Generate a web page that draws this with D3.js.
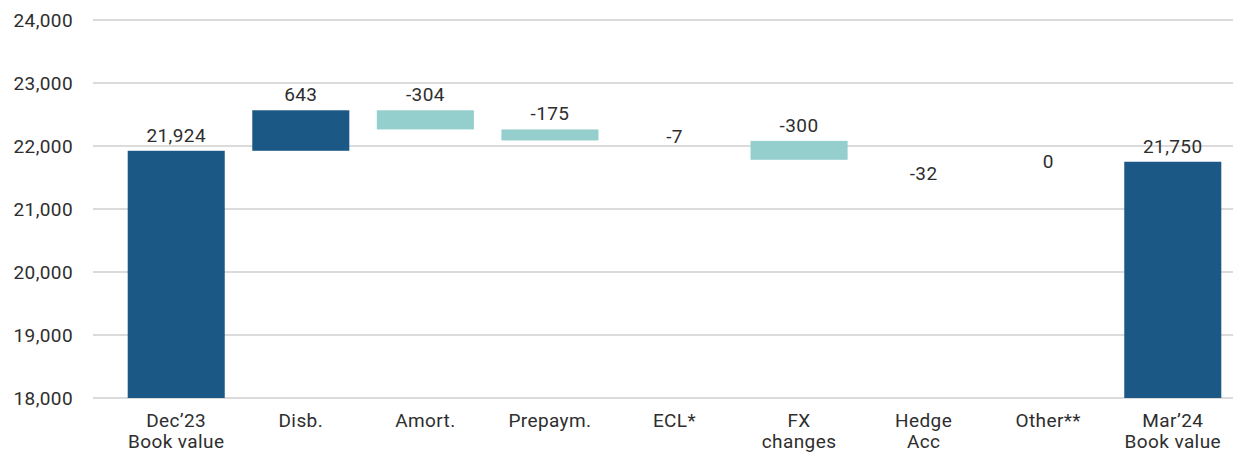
<html><head>
<script src="https://d3js.org/d3.v7.min.js"></script>
<style>
  body { margin: 0; background: #fff; }
  text { font-family: Roboto, sans-serif; fill: #2e2e2e; letter-spacing: 0.4px; }
</style>
</head>
<body>
<svg id="chart" width="1236" height="453"></svg>
<script>
  // waterfall steps
  const categories = ["Dec’23|Book value", "Disb.", "Amort.", "Prepaym.", "ECL*", "FX|changes", "Hedge|Acc", "Other**", "Mar’24|Book value"];
  const changes = [21924, 643, -304, -175, -7, -300, -32, 0, 21750];
  const isTotal = [true, false, false, false, false, false, false, false, true];
  const labels = ["21,924", "643", "-304", "-175", "-7", "-300", "-32", "0", "21,750"];
  const yTicks = [18000, 19000, 20000, 21000, 22000, 23000, 24000];

  const svg = d3.select("#chart");
  const darkBlue = "#1b5886", teal = "#94cfcd";

  // build start/end for each bar
  let running = 0;
  const bars = categories.map((c, i) => {
    let lo, hi;
    if (isTotal[i]) { lo = 18000; hi = changes[i]; running = changes[i]; }
    else {
      const next = running + changes[i];
      lo = Math.min(running, next); hi = Math.max(running, next);
      running = next;
    }
    return {cat: c, lo: lo, hi: hi, total: isTotal[i], change: changes[i], label: labels[i]};
  });

  const x = d3.scaleBand().domain(categories).range([114, 1235]).paddingInner(0.221).paddingOuter(0.11);
  const y = d3.scaleLinear().domain([18000, 24000]).range([398, 20]);

  // gridlines
  svg.append("g").selectAll("line").data(yTicks).join("line")
    .attr("x1", 93).attr("x2", 1233)
    .attr("y1", d => y(d)).attr("y2", d => y(d))
    .attr("stroke", "#cfcfcf").attr("stroke-width", 1.3);

  svg.append("g").selectAll("text").data(yTicks).join("text")
    .attr("x", 73).attr("y", d => y(d)).attr("dy", "0.35em")
    .attr("text-anchor", "end").attr("font-size", 19)
    .text(d => d3.format(",")(d));

  // the source doesn't show the very small steps (ECL, Hedge) as bars
  svg.append("g").selectAll("rect").data(bars.filter(d => d.total || Math.abs(d.change) >= 50)).join("rect")
    .attr("x", d => x(d.cat)).attr("width", x.bandwidth())
    .attr("y", d => y(d.hi)).attr("height", d => y(d.lo) - y(d.hi))
    .attr("fill", d => (d.total || d.change > 0) ? darkBlue : teal);

  // value labels; a few small steps have their label nudged as in the source
  const nudge = {"ECL*": 12, "Hedge|Acc": 29, "Other**": 15};
  svg.append("g").selectAll("text").data(bars).join("text")
    .attr("x", d => x(d.cat) + x.bandwidth() / 2)
    .attr("y", d => y(d.hi) - 9 + (nudge[d.cat] || 0))
    .attr("text-anchor", "middle").attr("font-size", 19)
    .text(d => d.label);

  // category labels
  const cl = svg.append("g").selectAll("text").data(categories).join("text")
    .attr("x", d => x(d) + x.bandwidth() / 2)
    .attr("y", 427)
    .attr("text-anchor", "middle").attr("font-size", 19);
  cl.each(function(d) {
    const parts = d.split("|");
    d3.select(this).selectAll("tspan").data(parts).join("tspan")
      .attr("x", x(d) + x.bandwidth() / 2)
      .attr("dy", (p, i) => i === 0 ? 0 : 21)
      .text(p => p);
  });
</script>
</body>
</html>
